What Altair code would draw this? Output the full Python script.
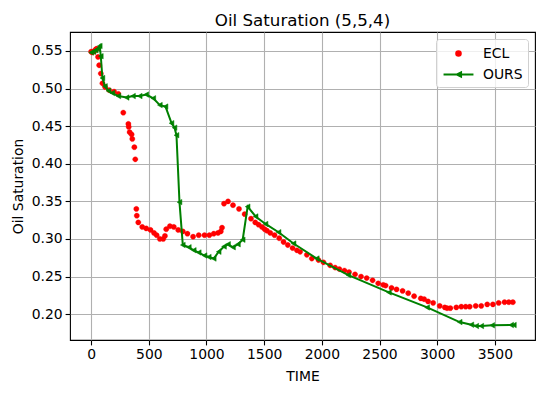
import altair as alt
import pandas as pd

ecl_t = [0, 10, 20, 30, 40, 50, 60, 70, 84, 98, 121, 156, 199, 236, 279, 323, 326, 334, 351, 357,
         375, 383, 392, 396, 409, 443, 478, 515, 545, 568, 596, 625, 640, 651, 683, 717, 755, 795,
         835, 884, 933, 983, 1025, 1063, 1100, 1124, 1135, 1152, 1187, 1230, 1282, 1331, 1386,
         1423, 1452, 1481, 1504, 1524, 1553, 1590, 1631, 1668, 1705, 1746, 1784, 1812, 1870, 1913,
         1971, 2014, 2072, 2115, 2152, 2196, 2236, 2288, 2340, 2389, 2440, 2489, 2532, 2553, 2604,
         2648, 2700, 2749, 2800, 2858, 2887, 2921, 2965, 3022, 3066, 3086, 3114, 3166, 3209, 3247,
         3282, 3334, 3382, 3434, 3483, 3533, 3584, 3621, 3656]
ecl_s = [0.549, 0.548, 0.549, 0.550, 0.552, 0.553, 0.542, 0.531, 0.520, 0.507, 0.502, 0.498, 0.496,
         0.493, 0.468, 0.453, 0.449, 0.442, 0.439, 0.433, 0.422, 0.406, 0.340, 0.331, 0.322, 0.316,
         0.314, 0.312, 0.308, 0.305, 0.300, 0.300, 0.304, 0.313, 0.317, 0.316, 0.312, 0.310, 0.307,
         0.303, 0.305, 0.305, 0.305, 0.307, 0.308, 0.310, 0.315, 0.347, 0.350, 0.345, 0.340, 0.333,
         0.327, 0.322, 0.319, 0.316, 0.313, 0.311, 0.308, 0.305, 0.301, 0.296, 0.292, 0.288, 0.285,
         0.283, 0.279, 0.274, 0.272, 0.269, 0.265, 0.262, 0.260, 0.258, 0.256, 0.253, 0.250, 0.248,
         0.245, 0.241, 0.239, 0.238, 0.235, 0.233, 0.231, 0.228, 0.224, 0.221, 0.220, 0.217, 0.215,
         0.211, 0.209, 0.208, 0.208, 0.209, 0.210, 0.210, 0.210, 0.211, 0.211, 0.213, 0.213, 0.215,
         0.216, 0.216, 0.216]

ours_t = [0, 20, 40, 60, 75, 84, 98, 120, 150, 184, 236, 308, 363, 421, 478, 539, 596, 645, 697,
          723, 740, 766, 795, 847, 890, 933, 983, 1020, 1063, 1106, 1152, 1187, 1230, 1273, 1314,
          1357, 1426, 1512, 1625, 1755, 1956, 2230, 2582, 2913, 3195, 3296, 3339, 3382, 3477, 3641,
          3665]
ours_s = [0.548, 0.549, 0.551, 0.553, 0.5566, 0.543, 0.514, 0.503, 0.497, 0.494, 0.490, 0.488,
          0.490, 0.490, 0.492, 0.487, 0.478, 0.476, 0.454, 0.448, 0.438, 0.349, 0.292, 0.289, 0.285,
          0.282, 0.278, 0.276, 0.274, 0.283, 0.290, 0.293, 0.289, 0.293, 0.299, 0.343, 0.330, 0.320,
          0.309, 0.294, 0.274, 0.252, 0.229, 0.209, 0.1895, 0.186, 0.1843, 0.1843, 0.1852, 0.1856,
          0.1856]

series_names = ["ECL", "OURS"]
x_ticks = [0, 500, 1000, 1500, 2000, 2500, 3000, 3500]
y_ticks = [0.20, 0.25, 0.30, 0.35, 0.40, 0.45, 0.50, 0.55]

ecl = pd.DataFrame({"TIME": ecl_t, "sat": ecl_s, "series": "ECL"})
ours = pd.DataFrame({"TIME": ours_t, "sat": ours_s, "series": "OURS"})

FONT = "DejaVu Sans"
xscale = alt.Scale(domain=[-183, 3848], nice=False, zero=False)
yscale = alt.Scale(domain=[0.1657, 0.5752], nice=False, zero=False)
cscale = alt.Scale(domain=series_names, range=["#ff0000", "#008000"])
circle_path = "M0.27,0A0.27,0.27,0,1,1,-0.27,0A0.27,0.27,0,1,1,0.27,0Z"
ours_path = "M-1.76,0H1.76M0.3,-0.24L-0.2,0L0.3,0.24Z"
sscale = alt.Scale(domain=series_names, range=[circle_path, ours_path])

leg = alt.Legend(title=None, orient="top-right", offset=7, symbolSize=289,
                 labelFont=FONT, labelFontSize=13.9, labelColor="black",
                 padding=5, rowPadding=4, symbolOffset=8, labelOffset=15,
                 strokeColor="#d0d0d0", fillColor="rgba(255,255,255,0.8)",
                 cornerRadius=3, symbolStrokeWidth=2)

x = alt.X("TIME:Q", scale=xscale, axis=alt.Axis(values=x_ticks, format="d", title="TIME"))
y = alt.Y("sat:Q", scale=yscale, axis=alt.Axis(values=y_ticks, format=".2f", title="Oil Saturation"))

pts = alt.Chart(ecl).mark_point(filled=True, size=380, opacity=1, strokeWidth=0.3).encode(
    x=x, y=y,
    fill=alt.Fill("series:N", scale=cscale, legend=leg),
    stroke=alt.Stroke("series:N", scale=cscale, legend=leg),
    shape=alt.Shape("series:N", scale=sscale, legend=leg),
)
line = alt.Chart(ours).mark_line(strokeWidth=2).encode(
    x=x, y=y, order="TIME:Q",
    stroke=alt.Stroke("series:N", scale=cscale, legend=leg),
)
marks = alt.Chart(ours).mark_point(filled=True, size=30, opacity=1, shape="triangle-left",
                                   strokeWidth=0.5).encode(
    x=x, y=y,
    fill=alt.Fill("series:N", scale=cscale, legend=leg),
    stroke=alt.Stroke("series:N", scale=cscale, legend=leg),
)

chart = alt.layer(pts, line, marks).properties(
    width=465, height=308,
    title=alt.Title("Oil Saturation (5,5,4)", font=FONT, fontSize=16.7, fontWeight="normal",
                    color="black", offset=2),
    padding={"left": 62, "top": 24, "right": 1, "bottom": 45},
    autosize="none",
).configure_view(stroke="black", strokeWidth=1.1).configure_axis(
    labelFont=FONT, labelFontSize=13.9, labelColor="black",
    titleFont=FONT, titleFontSize=13.9, titleFontWeight="normal", titleColor="black",
    gridColor="#b0b0b0", gridWidth=1.1, domain=False,
    tickColor="black", tickSize=4.9, tickWidth=1.1, labelPadding=3,
).configure_axisX(titlePadding=8).configure_axisY(titlePadding=6)

chart.save("out.html", embed_options={"renderer": "svg", "actions": False})
